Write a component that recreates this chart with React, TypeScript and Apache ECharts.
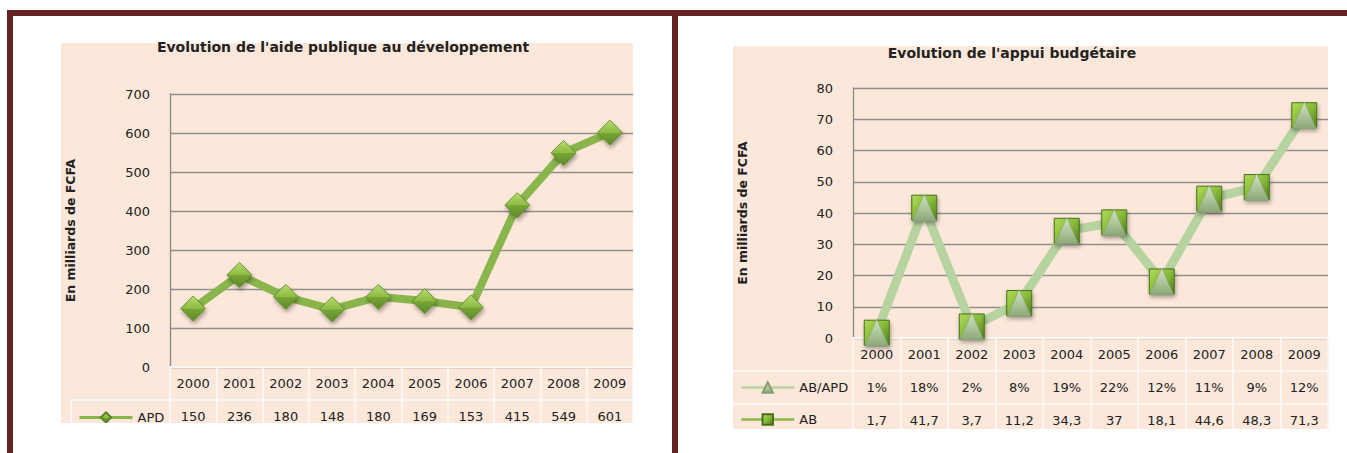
import React, { useEffect, useRef } from "react";
import * as echarts from "echarts";

// ---------- data ----------
const years = ["2000", "2001", "2002", "2003", "2004", "2005", "2006", "2007", "2008", "2009"];
const apdValues = [150, 236, 180, 148, 180, 169, 153, 415, 549, 601];
const abApdPct = [1, 18, 2, 8, 19, 22, 12, 11, 9, 12];
const abValues = [1.7, 41.7, 3.7, 11.2, 34.3, 37, 18.1, 44.6, 48.3, 71.3];
const leftTicks = [0, 100, 200, 300, 400, 500, 600, 700];
const rightTicks = [0, 10, 20, 30, 40, 50, 60, 70, 80];

const leftTitle = "Evolution de l'aide publique au développement";
const rightTitle = "Evolution de l'appui budgétaire";
const yName = "En milliards de FCFA";

// ---------- style ----------
const W = 1347;
const H = 453;
const FONT = "DejaVu Sans";
const PEACH = "#fce8da";
const BORDER = "#672323";
const GRID_GRAY = "#8f8f8f";
const TABLE_LINE = "#fbf6f2";
const TEXT = "#222";

const fmtComma = (v: number) => String(v).replace(".", ",");

function buildOption() {
  const diamondFill = new echarts.graphic.LinearGradient(0, 0, 0, 1, [
    { offset: 0, color: "#b6dc6c" },
    { offset: 0.5, color: "#8cbb43" },
    { offset: 0.52, color: "#78a535" },
    { offset: 1, color: "#5c8a26" },
  ]);
  const squareFill = new echarts.graphic.LinearGradient(0, 0, 1, 1, [
    { offset: 0, color: "#b0dc58" },
    { offset: 0.5, color: "#86bb38" },
    { offset: 1, color: "#4f7a1e" },
  ]);
  const triangleFill = new echarts.graphic.LinearGradient(0, 0, 0, 1, [
    { offset: 0, color: "#d3e2c5" },
    { offset: 0.6, color: "#a8c194" },
    { offset: 1, color: "#8aa676" },
  ]);

  const yAxisBase = (ticks: number[], gridIndex: number, nameGap: number) => ({
    type: "value",
    gridIndex,
    min: ticks[0],
    max: ticks[ticks.length - 1],
    interval: ticks[1] - ticks[0],
    axisLine: { show: true, lineStyle: { color: "#888", width: 1.3 } },
    axisTick: { show: false },
    splitLine: { show: true, lineStyle: { color: GRID_GRAY, width: 1.3 } },
    axisLabel: { margin: 20, fontFamily: FONT, fontSize: 13, color: TEXT },
    name: yName,
    nameLocation: "middle",
    nameRotate: 90,
    nameGap,
    nameTextStyle: { fontFamily: FONT, fontSize: 12.5, fontWeight: "bold", color: TEXT },
  });

  const tableAxis = (gridIndex: number, data: string[], offset: number) => ({
    type: "category",
    gridIndex,
    data,
    position: "bottom",
    offset,
    z: 1,
    boundaryGap: true,
    axisLine: { show: true, lineStyle: { color: TABLE_LINE, width: 2 } },
    axisTick: { show: true, length: 33, interval: 0, lineStyle: { color: TABLE_LINE, width: 2 } },
    axisLabel: { interval: 0, margin: 10, fontFamily: FONT, fontSize: 13, color: TEXT },
    splitLine: { show: false },
  });

  const legendText = { fontFamily: FONT, fontSize: 13, color: TEXT };

  return {
    animation: false,
    backgroundColor: "#ffffff",
    title: [
      {
        text: leftTitle,
        left: 343,
        top: 40,
        textAlign: "center",
        padding: 0,
        textStyle: { fontFamily: FONT, fontSize: 14, fontWeight: "bold", color: TEXT },
      },
      {
        text: rightTitle,
        left: 1012,
        top: 46,
        textAlign: "center",
        padding: 0,
        textStyle: { fontFamily: FONT, fontSize: 14, fontWeight: "bold", color: TEXT },
      },
    ],
    grid: [
      { left: 170, top: 94, width: 463, height: 273, containLabel: false },
      { left: 853, top: 88, width: 475, height: 250, containLabel: false },
    ],
    xAxis: [
      tableAxis(0, years, 0),
      tableAxis(0, apdValues.map((v) => String(v)), 33),
      tableAxis(1, years, 0),
      tableAxis(1, abApdPct.map((v) => `${v}%`), 33),
      tableAxis(1, abValues.map(fmtComma), 66),
    ],
    yAxis: [yAxisBase(leftTicks, 0, 93), yAxisBase(rightTicks, 1, 104)],
    legend: [
      {
        left: 78,
        top: 411,
        padding: 0,
        itemWidth: 53,
        itemHeight: 13,
        itemGap: 5,
        textStyle: legendText,
        data: [{ name: "APD", lineStyle: { width: 3, color: "#8ab54c" } }],
      },
      {
        left: 740,
        top: 381,
        padding: 0,
        itemWidth: 53,
        itemHeight: 13,
        textStyle: legendText,
        data: [{ name: "AB/APD", lineStyle: { width: 2.5, color: "#b7d3a0", opacity: 1 } }],
      },
      {
        left: 740,
        top: 413,
        padding: 0,
        itemWidth: 53,
        itemHeight: 13,
        textStyle: legendText,
        data: [{ name: "AB", lineStyle: { width: 2.5, color: "#8db84a" } }],
      },
    ],
    series: [
      {
        name: "APD",
        type: "line",
        xAxisIndex: 0,
        yAxisIndex: 0,
        data: apdValues,
        z: 3,
        symbol: "diamond",
        symbolSize: 25,
        lineStyle: { color: "#8ab54c", width: 8 },
        itemStyle: {
          color: diamondFill,
          borderColor: "#5a8526",
          borderWidth: 0.8,
          shadowBlur: 4,
          shadowColor: "rgba(0,0,0,0.35)",
          shadowOffsetX: 1,
          shadowOffsetY: 3,
        },
      },
      {
        name: "AB",
        type: "line",
        xAxisIndex: 2,
        yAxisIndex: 1,
        data: abValues,
        z: 3,
        symbol: "rect",
        symbolSize: 25,
        lineStyle: { color: "#b7d3a0", width: 9 },
        itemStyle: {
          color: squareFill,
          borderColor: "#4a6e1d",
          borderWidth: 1,
          shadowBlur: 4,
          shadowColor: "rgba(0,0,0,0.35)",
          shadowOffsetX: 1,
          shadowOffsetY: 3,
        },
      },
      {
        name: "AB/APD",
        type: "line",
        xAxisIndex: 2,
        yAxisIndex: 1,
        data: abValues,
        z: 4,
        symbol: "triangle",
        symbolSize: [24, 27],
        lineStyle: { color: "#b7d3a0", width: 9, opacity: 0 },
        itemStyle: {
          color: triangleFill,
          borderColor: "#86a072",
          borderWidth: 0.6,
        },
      },
    ],
    graphic: [
      // peach chart backgrounds
      { type: "rect", z: -1, silent: true, shape: { x: 61, y: 43, width: 572, height: 380 }, style: { fill: PEACH } },
      { type: "rect", z: -1, silent: true, shape: { x: 733, y: 46, width: 595, height: 383 }, style: { fill: PEACH } },
      // legend-column cell lines
      { type: "line", z: 5, silent: true, shape: { x1: 71, y1: 400, x2: 170, y2: 400 }, style: { stroke: TABLE_LINE, lineWidth: 2 } },
      { type: "line", z: 5, silent: true, shape: { x1: 71, y1: 400, x2: 71, y2: 423 }, style: { stroke: TABLE_LINE, lineWidth: 2 } },
      { type: "line", z: 5, silent: true, shape: { x1: 733, y1: 371, x2: 853, y2: 371 }, style: { stroke: TABLE_LINE, lineWidth: 2 } },
      { type: "line", z: 5, silent: true, shape: { x1: 733, y1: 404, x2: 853, y2: 404 }, style: { stroke: TABLE_LINE, lineWidth: 2 } },
      // white crop below the embedded charts
      { type: "rect", z: 100, silent: true, shape: { x: 13, y: 423, width: 659, height: 30 }, style: { fill: "#ffffff" } },
      { type: "rect", z: 100, silent: true, shape: { x: 678, y: 429, width: 669, height: 24 }, style: { fill: "#ffffff" } },
      { type: "rect", z: 100, silent: true, shape: { x: 633, y: 16, width: 39, height: 437 }, style: { fill: "#ffffff" } },
      // frame
      { type: "rect", z: 101, silent: true, shape: { x: 7, y: 10, width: 1340, height: 6 }, style: { fill: BORDER } },
      { type: "rect", z: 101, silent: true, shape: { x: 7, y: 10, width: 6, height: 443 }, style: { fill: BORDER } },
      { type: "rect", z: 101, silent: true, shape: { x: 672, y: 10, width: 6, height: 443 }, style: { fill: BORDER } },
    ],
  };
}

export default function App() {
  const ref = useRef<HTMLDivElement>(null);
  useEffect(() => {
    if (!ref.current) return;
    const chart = echarts.init(ref.current, null, { renderer: "svg", width: W, height: H });
    chart.setOption(buildOption() as any);
    return () => chart.dispose();
  }, []);
  return (
    <div
      ref={ref}
      style={{ position: "absolute", left: 0, top: 0, width: W, height: H, background: "#ffffff" }}
    />
  );
}
